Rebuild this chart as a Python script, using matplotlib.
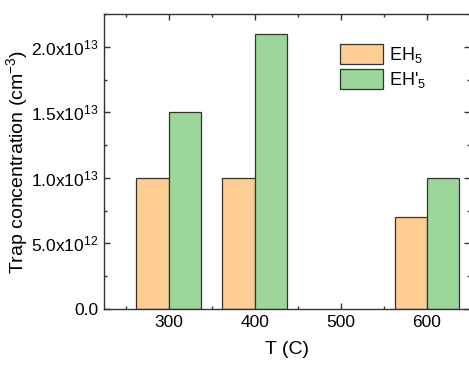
import matplotlib
matplotlib.use("Agg")
import matplotlib.pyplot as plt
import matplotlib.ticker as ticker
import numpy as np

plt.rcParams["font.family"] = ["Liberation Sans", "DejaVu Sans"]
plt.rcParams["mathtext.fontset"] = "custom"
plt.rcParams["mathtext.rm"] = "Liberation Sans"
plt.rcParams["mathtext.it"] = "Liberation Sans:italic"

# data
temps = [300, 400, 500, 600]
eh5 = [1.0e13, 1.0e13, 0.0, 0.7e13]
eh5_prime = [1.5e13, 2.1e13, 0.0, 1.0e13]

ORANGE = "#FECD94"
GREEN = "#9DD69B"
width = 37.5

fig = plt.figure(figsize=(4.69, 3.65), dpi=100)
ax = fig.add_axes([104 / 469, 56 / 365, 366 / 469, 295 / 365])

x = np.array(temps, dtype=float)
for xs, vals, col, lab in [(x - width / 2, eh5, ORANGE, "EH$_5$"),
                           (x + width / 2, eh5_prime, GREEN, "EH'$_5$")]:
    keep = [v > 0 for v in vals]
    ax.bar(xs[keep], np.array(vals)[keep], width, color=col,
           edgecolor="#333333", linewidth=0.9, label=lab, zorder=2)

ax.set_xlim(225, 650)
ax.set_ylim(0, 2.25e13)
ax.set_xticks(temps)
ax.xaxis.set_minor_locator(ticker.MultipleLocator(50))
ax.yaxis.set_major_locator(ticker.MultipleLocator(5e12))
ax.yaxis.set_minor_locator(ticker.MultipleLocator(2.5e12))


def fmt(v, _):
    if abs(v) < 1:
        return "0.0"
    e = int(np.floor(np.log10(abs(v))))
    return f"{v / 10**e:.1f}x10$^{{{e}}}$"


ax.yaxis.set_major_formatter(ticker.FuncFormatter(fmt))
ax.tick_params(which="both", direction="in", top=True, right=True,
               labelsize=12.5, width=1.0, color="#333333")
ax.tick_params(which="major", length=4, pad=4)
ax.tick_params(which="minor", length=2.5)
for s in ax.spines.values():
    s.set_linewidth(1.0)
    s.set_color("#333333")

ax.set_xlabel("T (C)", fontsize=14, labelpad=8)
ax.set_ylabel("Trap concentration (cm$^{-3}$)", fontsize=14, labelpad=1)

ax.legend(loc="upper left", bbox_to_anchor=(0.6, 0.955), frameon=False,
          fontsize=13, handlelength=2.4, handleheight=1.35,
          handletextpad=0.3, labelspacing=0.25)

fig.savefig("out.png", dpi=100)
